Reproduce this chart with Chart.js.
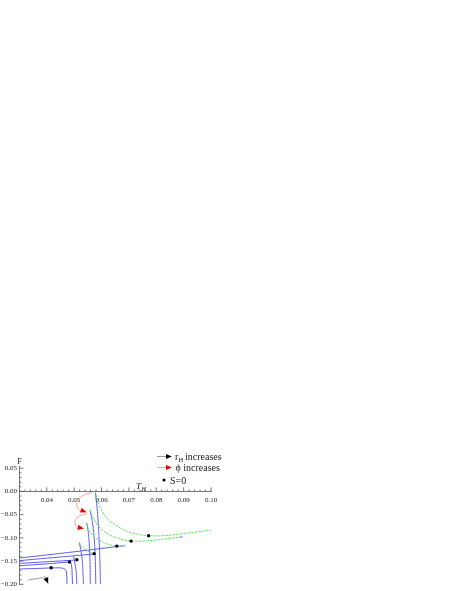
<!DOCTYPE html>
<html>
<head>
<meta charset="utf-8">
<script src="https://cdn.jsdelivr.net/npm/chart.js@4.4.1/dist/chart.umd.min.js"></script>
<style>
    html, body { margin: 0; padding: 0; background: #fff; }
    #wrap { position: relative; width: 457px; height: 591px; }
</style>
</head>
<body>
<div id="wrap"><canvas id="freeEnergyChart"></canvas></div>
<script>
// axis ticks (major, labelled)
const xTickValues = [0.04, 0.05, 0.06, 0.07, 0.08, 0.09, 0.10];
const xTickLabels = ['0.04', '0.05', '0.06', '0.07', '0.08', '0.09', '0.10'];
const yTickValues = [0.05, 0.00, -0.05, -0.10, -0.15, -0.20];
const yTickLabels = ['0.05', '0.00', '\u22120.05', '\u22120.10', '\u22120.15', '\u22120.20'];

// F(T_H) branches, [T_H, F], one block per value of phi
const steep1 = [[0.0577, 0.000], [0.0581, -0.020], [0.0586, -0.050], [0.0590, -0.090], [0.0593, -0.130], [0.0595, -0.170], [0.0596, -0.200]];
const green1 = [[0.0577, 0.000], [0.0586, -0.020], [0.0600, -0.040], [0.0620, -0.058], [0.0650, -0.072], [0.0690, -0.085], [0.0730, -0.092], [0.0772, -0.0955], [0.0820, -0.0955], [0.0870, -0.0930], [0.0930, -0.0885], [0.1000, -0.0835]];

const steep2 = [[0.0558, -0.040], [0.0565, -0.060], [0.0571, -0.085], [0.0575, -0.115], [0.0578, -0.160], [0.0579, -0.200]];
const green2 = [[0.0558, -0.040], [0.0568, -0.055], [0.0583, -0.070], [0.0600, -0.082], [0.0630, -0.094], [0.0668, -0.102], [0.0708, -0.1070], [0.0755, -0.1068], [0.0810, -0.1038], [0.0890, -0.0982]];
const flat2 = [[0.0886, -0.0984], [0.0896, -0.0978]];

const steep3 = [[0.0546, -0.068], [0.0551, -0.085], [0.0555, -0.110], [0.0558, -0.150], [0.0559, -0.200]];
const green3 = [[0.0546, -0.068], [0.0553, -0.082], [0.0570, -0.096], [0.0607, -0.110], [0.0635, -0.1155], [0.0656, -0.1176], [0.0686, -0.1168]];
const flat3 = [[0.0300, -0.1435], [0.0400, -0.1368], [0.0500, -0.1300], [0.0600, -0.1228], [0.0686, -0.1168]];

const steep4 = [[0.0519, -0.110], [0.0524, -0.125], [0.0529, -0.145], [0.0532, -0.170], [0.0534, -0.200]];
const green4 = [[0.0519, -0.110], [0.0532, -0.121], [0.0546, -0.127], [0.0560, -0.1315], [0.0573, -0.1340], [0.0580, -0.1345]];
const flat4 = [[0.0300, -0.1490], [0.0400, -0.1438], [0.0500, -0.1386], [0.0580, -0.1345]];

const steep5 = [[0.0497, -0.139], [0.0503, -0.155], [0.0507, -0.170], [0.0510, -0.200]];
const green5 = [[0.0497, -0.139], [0.0504, -0.1440], [0.0510, -0.1468], [0.0514, -0.1475]];
const flat5 = [[0.0300, -0.1550], [0.0400, -0.1515], [0.0514, -0.1475]];

const flat6 = [[0.0300, -0.1600], [0.0400, -0.1560], [0.0483, -0.1520], [0.0488, -0.1530], [0.0490, -0.1580], [0.0492, -0.1680], [0.0493, -0.1820], [0.0494, -0.2000]];
const flat7 = [[0.0300, -0.1670], [0.0360, -0.1660], [0.0416, -0.1648], [0.0447, -0.1645], [0.0462, -0.1660], [0.0470, -0.1700], [0.0473, -0.1800], [0.0474, -0.2000]];

// S = 0 points
const zeroEntropyT = [0.0772, 0.0708, 0.0656, 0.0573, 0.0510, 0.0483, 0.0416];
const zeroEntropyF = [-0.0955, -0.1070, -0.1178, -0.1340, -0.1470, -0.1520, -0.1645];

// guide arrows drawn on the plot
const phiArrow1 = [[0.0565, -0.002], [0.0528, -0.0105], [0.0510, -0.0245], [0.0516, -0.0385], [0.0545, -0.0450]];
const phiArrow2 = [[0.0546, -0.0485], [0.0514, -0.0545], [0.0503, -0.0670], [0.0514, -0.0775], [0.0535, -0.0800]];
const rArrow = [[0.0333, -0.1905], [0.0387, -0.1855], [0.0394, -0.1835], [0.0399, -0.1900], [0.0405, -0.1985]];

const BLUE = 'rgb(95, 95, 240)';
const GREEN = 'rgb(95, 225, 95)';
const PINK = 'rgb(255, 150, 150)';
const RED = 'rgb(235, 0, 0)';
const FONT = '"Liberation Serif", "DejaVu Serif", serif';

function toXY(points) {
    return points.map(p => ({ x: p[0], y: p[1] }));
}

function branch(points, color, dashed, tension) {
    return {
        data: toXY(points),
        showLine: true,
        borderColor: color,
        borderWidth: 1,
        borderDash: dashed ? [2.5, 1.2] : [],
        pointRadius: 0,
        tension: tension === undefined ? 0.3 : tension,
        fill: false
    };
}

function arrow(points, color, head) {
    const ds = branch(points, color, false, 0.4);
    ds.borderWidth = 0.9;
    ds.arrowHead = head;
    return ds;
}

// every tick position, major + minor
const xAllTicks = [];
for (let i = 0; i <= 35; i++) xAllTicks.push(+(0.03 + i * 0.002).toFixed(3));
const yAllTicks = [];
for (let i = 0; i <= 25; i++) yAllTicks.push(+(-0.2 + i * 0.01).toFixed(2));

function isMajor(v, majors) {
    return majors.some(m => Math.abs(m - v) < 1e-9);
}

function labelFor(v, majors, labels) {
    const i = majors.findIndex(m => Math.abs(m - v) < 1e-9);
    return i >= 0 ? labels[i] : '';
}

function drawHead(ctx, x0, y0, x1, y1, color, len, half) {
    const a = Math.atan2(y1 - y0, x1 - x0);
    ctx.save();
    ctx.fillStyle = color;
    ctx.beginPath();
    ctx.moveTo(x1, y1);
    ctx.lineTo(x1 - len * Math.cos(a) + half * Math.sin(a), y1 - len * Math.sin(a) - half * Math.cos(a));
    ctx.lineTo(x1 - len * Math.cos(a) - half * Math.sin(a), y1 - len * Math.sin(a) + half * Math.cos(a));
    ctx.closePath();
    ctx.fill();
    ctx.restore();
}

const decorations = {
    id: 'decorations',
    afterDatasetsDraw(chart) {
        const ctx = chart.ctx;
        chart.data.datasets.forEach((ds, i) => {
            if (!ds.arrowHead) return;
            const pts = chart.getDatasetMeta(i).data;
            const a = pts[pts.length - 2], b = pts[pts.length - 1];
            drawHead(ctx, a.x, a.y, b.x, b.y, ds.arrowHead, 6, 2.6);
        });
    },
    afterDraw(chart) {
        const ctx = chart.ctx;
        const xs = chart.scales.x, ys = chart.scales.y;
        const y0 = ys.getPixelForValue(0);
        const x0 = chart.chartArea.left;

        // inward tick marks
        ctx.save();
        ctx.strokeStyle = '#555';
        ctx.lineWidth = 0.8;
        ctx.beginPath();
        xAllTicks.forEach(v => {
            const px = xs.getPixelForValue(v);
            const len = isMajor(v, xTickValues) ? 4 : 2;
            ctx.moveTo(px, y0);
            ctx.lineTo(px, y0 - len);
        });
        yAllTicks.forEach(v => {
            const py = ys.getPixelForValue(v);
            const len = isMajor(v, yTickValues) ? 4 : 2;
            ctx.moveTo(x0, py);
            ctx.lineTo(x0 + len, py);
        });
        ctx.stroke();

        // axis labels
        ctx.fillStyle = '#222';
        ctx.textBaseline = 'alphabetic';
        ctx.textAlign = 'center';
        ctx.font = '8px ' + FONT;
        ctx.fillText('F', x0, 464);
        ctx.textAlign = 'left';
        ctx.font = 'italic 9px ' + FONT;
        ctx.fillText('T', 136, 489);
        ctx.font = 'italic 6px ' + FONT;
        ctx.fillText('H', 141.5, 491);

        // legend
        ctx.strokeStyle = 'rgb(140, 140, 140)';
        ctx.lineWidth = 0.9;
        ctx.beginPath();
        ctx.moveTo(157, 456.5);
        ctx.lineTo(167, 456.5);
        ctx.stroke();
        drawHead(ctx, 160, 456.5, 172, 456.5, '#000', 6, 2.6);
        ctx.strokeStyle = PINK;
        ctx.beginPath();
        ctx.moveTo(157, 467.5);
        ctx.lineTo(167, 467.5);
        ctx.stroke();
        drawHead(ctx, 160, 467.5, 172, 467.5, RED, 6, 2.6);
        ctx.fillStyle = '#000';
        ctx.beginPath();
        ctx.arc(164, 480, 1.6, 0, Math.PI * 2);
        ctx.fill();

        ctx.fillStyle = '#222';
        ctx.font = '10px ' + FONT;
        ctx.fillText('r', 175, 459.5);
        ctx.font = '6.5px ' + FONT;
        ctx.fillText('H', 178.5, 461.5);
        ctx.font = '10px ' + FONT;
        ctx.fillText('increases', 185, 459.5);
        ctx.fillText('\u03D5 increases', 175.5, 470.5);
        ctx.fillText('S=0', 170, 483.5);
        ctx.restore();
    }
};

// Chart.js paints dataset 0 last, so dots and arrows come first
const ctx = document.getElementById('freeEnergyChart').getContext('2d');
const chart = new Chart(ctx, {
    type: 'scatter',
    data: {
        datasets: [
            {
                data: zeroEntropyT.map((t, i) => ({ x: t, y: zeroEntropyF[i] })),
                showLine: false,
                pointRadius: 1.7,
                pointBackgroundColor: '#000',
                pointBorderWidth: 0
            },
            arrow(phiArrow1, PINK, RED),
            arrow(phiArrow2, PINK, RED),
            arrow(rArrow, 'rgb(140, 140, 140)', '#000'),
            branch(green1, GREEN, true), branch(green2, GREEN, true), branch(green3, GREEN, true),
            branch(green4, GREEN, true), branch(green5, GREEN, true),
            branch(flat2, BLUE),
            branch(steep1, BLUE, false, 0.15), branch(steep2, BLUE, false, 0.15), branch(steep3, BLUE, false, 0.15),
            branch(steep4, BLUE, false, 0.15), branch(steep5, BLUE, false, 0.15),
            branch(flat3, BLUE), branch(flat4, BLUE), branch(flat5, BLUE), branch(flat6, BLUE), branch(flat7, BLUE)
        ]
    },
    options: {
        responsive: true,
        maintainAspectRatio: false,
        animation: false,
        events: [],
        layout: { padding: { left: 0, top: 466.8, right: 246, bottom: 5.3 } },
        plugins: {
            legend: { display: false },
            tooltip: { enabled: false }
        },
        scales: {
            x: {
                type: 'linear',
                min: 0.03,
                max: 0.10,
                position: { y: 0 },
                grid: { display: false, drawTicks: false },
                border: { display: true, color: '#555', width: 0.8 },
                afterBuildTicks: scale => { scale.ticks = xAllTicks.map(v => ({ value: v })); },
                afterFit: scale => { scale.height = 0; },
                ticks: {
                    autoSkip: false,
                    maxRotation: 0,
                    padding: 4.5,
                    color: '#222',
                    font: { family: FONT, size: 7 },
                    callback: v => labelFor(v, xTickValues, xTickLabels)
                }
            },
            y: {
                type: 'linear',
                min: -0.20,
                max: 0.053,
                position: 'left',
                grid: { display: false, drawTicks: false },
                border: { display: true, color: '#555', width: 0.8 },
                afterBuildTicks: scale => { scale.ticks = yAllTicks.map(v => ({ value: v })); },
                afterFit: scale => { scale.width = 19.4; },
                ticks: {
                    autoSkip: false,
                    padding: 2.5,
                    color: '#222',
                    font: { family: FONT, size: 7 },
                    callback: v => labelFor(v, yTickValues, yTickLabels)
                }
            }
        }
    },
    plugins: [decorations]
});
</script>
</body>
</html>
